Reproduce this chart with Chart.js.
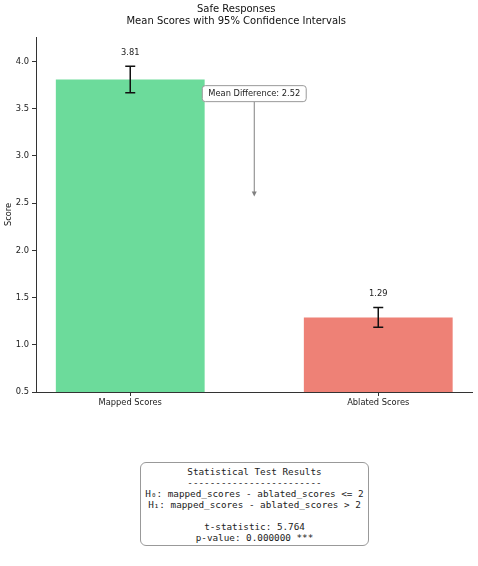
<!DOCTYPE html>
<html>
<head>
<meta charset="utf-8">
<script src="https://cdn.jsdelivr.net/npm/chart.js@4/dist/chart.umd.min.js"></script>
<style>
  html, body { margin: 0; padding: 0; background: #fff; }
  #wrap { position: relative; width: 478px; height: 566px; }
  #stats {
    position: absolute; left: 140px; top: 462px; width: 229px;
    box-sizing: border-box; height: 84px;
    border: 1.3px solid #999; border-radius: 6px; background: #fff;
    font-family: 'DejaVu Sans Mono', monospace; font-size: 9.3px; line-height: 11px;
    color: #222; text-align: center; white-space: pre; padding-top: 3px;
  }
</style>
</head>
<body>
<div id="wrap">
  <canvas id="scoreChart" width="478" height="566"></canvas>
  <div id="stats"></div>
</div>
<script>
const categories = ['Mapped Scores', 'Ablated Scores']
const means = [3.81, 1.29]
const ciHalf = [0.14, 0.105]
const barColors = ['rgba(46, 204, 113, 0.7)', 'rgba(231, 76, 60, 0.7)']
const yTicks = [0.5, 1.0, 1.5, 2.0, 2.5, 3.0, 3.5, 4.0]
const meanDiff = 2.52
const tStat = 5.764
const pValue = '0.000000'

const statLines = [
    'Statistical Test Results',
    '------------------------',
    'H\u2080: mapped_scores - ablated_scores <= 2',
    'H\u2081: mapped_scores - ablated_scores > 2',
    '',
    `t-statistic: ${tStat.toFixed(3)}`,
    `p-value: ${pValue} ***`
]
document.getElementById('stats').textContent = statLines.join('\n')

const FONT = "'DejaVu Sans', sans-serif"

// error bars, value labels and the mean difference arrow
const extras = {
    id: 'extras',
    afterDatasetsDraw(chart) {
        const ctx = chart.ctx
        const x = chart.scales.x
        const y = chart.scales.y
        ctx.save()
        means.forEach((m, i) => {
            const px = x.getPixelForValue(i)
            const top = y.getPixelForValue(m + ciHalf[i])
            const bot = y.getPixelForValue(m - ciHalf[i])
            ctx.strokeStyle = '#111'
            ctx.lineWidth = 1.5
            ctx.beginPath()
            ctx.moveTo(px, top); ctx.lineTo(px, bot)
            ctx.moveTo(px - 5, top); ctx.lineTo(px + 5, top)
            ctx.moveTo(px - 5, bot); ctx.lineTo(px + 5, bot)
            ctx.stroke()
            ctx.fillStyle = '#222'
            ctx.font = `8.3px ${FONT}`
            ctx.textAlign = 'center'
            ctx.textBaseline = 'bottom'
            ctx.fillText(m.toFixed(2), px, y.getPixelForValue(m + ciHalf[i] + 0.1))
        })

        // annotation
        const ax = x.getPixelForValue(0.5)
        const ay = y.getPixelForValue(3.66)
        const label = `Mean Difference: ${meanDiff.toFixed(2)}`
        ctx.font = `8.3px ${FONT}`
        const w = ctx.measureText(label).width + 12
        const h = 16
        const headY = y.getPixelForValue((means[0] + means[1]) / 2 + 0.02)
        ctx.strokeStyle = '#808080'
        ctx.lineWidth = 1
        ctx.beginPath()
        ctx.moveTo(ax, ay + h / 2); ctx.lineTo(ax, headY - 3)
        ctx.stroke()
        ctx.fillStyle = '#808080'
        ctx.beginPath()
        ctx.moveTo(ax - 2.5, headY - 5); ctx.lineTo(ax + 2.5, headY - 5); ctx.lineTo(ax, headY)
        ctx.closePath()
        ctx.fill()
        ctx.fillStyle = '#fff'
        ctx.strokeStyle = '#999'
        ctx.beginPath()
        ctx.roundRect(ax - w / 2, ay - h / 2, w, h, 3)
        ctx.fill()
        ctx.stroke()
        ctx.fillStyle = '#222'
        ctx.textBaseline = 'middle'
        ctx.fillText(label, ax, ay + 0.5)
        ctx.restore()
    }
}

new Chart(document.getElementById('scoreChart'), {
    type: 'bar',
    data: {
        datasets: [{
            data: means.map((m, i) => ({ x: i, y: m })),
            backgroundColor: barColors,
            borderWidth: 0,
            barPercentage: 0.6,
            categoryPercentage: 1
        }]
    },
    options: {
        responsive: false,
        animation: false,
        layout: { padding: { left: 0, right: 5.5, top: 0, bottom: 0 } },
        plugins: {
            legend: { display: false },
            tooltip: { enabled: false },
            title: {
                display: true,
                text: ['Safe Responses', 'Mean Scores with 95% Confidence Intervals'],
                color: '#111',
                font: { family: FONT, size: 10, weight: 'normal', lineHeight: 1.15 },
                padding: { top: 4, bottom: 10 }
            }
        },
        scales: {
            x: {
                type: 'linear',
                min: -0.38,
                max: 1.38,
                offset: false,
                afterBuildTicks: s => { s.ticks = categories.map((c, i) => ({ value: i })) },
                afterFit: s => { s.height = 174 },
                ticks: {
                    callback: v => categories[v],
                    color: '#222',
                    font: { family: FONT, size: 8.3 },
                    padding: 2,
                    maxRotation: 0
                },
                grid: { display: true, offset: false, drawOnChartArea: false, drawTicks: true, tickLength: 4, color: '#333' },
                border: { display: true, color: '#333', width: 1 }
            },
            y: {
                min: 0.5,
                max: 4.26,
                afterBuildTicks: s => { s.ticks = yTicks.map(v => ({ value: v })) },
                afterFit: s => { s.width = 36 },
                ticks: {
                    callback: v => v.toFixed(1),
                    color: '#222',
                    font: { family: FONT, size: 8.3 },
                    padding: 3
                },
                grid: { display: true, drawOnChartArea: false, drawTicks: true, tickLength: 4, color: '#333' },
                border: { display: true, color: '#333', width: 1 },
                title: {
                    display: true,
                    text: 'Score',
                    color: '#111',
                    font: { family: FONT, size: 8.3 },
                    padding: { top: 4, bottom: 0 }
                }
            }
        }
    },
    plugins: [extras]
})
</script>
</body>
</html>
